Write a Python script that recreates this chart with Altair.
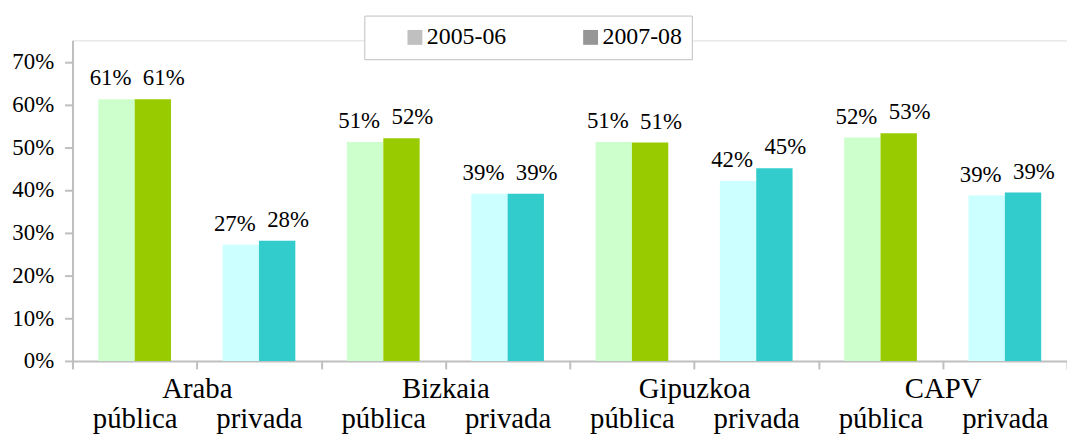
import altair as alt
import pandas as pd

groups = ["Araba", "Bizkaia", "Gipuzkoa", "CAPV"]
sectors = ["pública", "privada"]
years = ["2005-06", "2007-08"]
publica_2005 = [61.2, 51.2, 51.2, 52.3]
publica_2007 = [61.2, 52.1, 51.1, 53.3]
privada_2005 = [27.2, 39.1, 42.1, 38.7]
privada_2007 = [28.1, 39.1, 45.1, 39.4]
y_ticks = [0.0, 0.1, 0.2, 0.3, 0.4, 0.5, 0.6, 0.7]

bar_colors = ["#ccffcc", "#99cc00", "#ccffff", "#33cccc"]
legend_colors = ["#c0c0c0", "#969696"]
GREY = "#bfbfbf"
FONT = "Liberation Serif"

series = {
    ("pública", "2005-06"): publica_2005,
    ("pública", "2007-08"): publica_2007,
    ("privada", "2005-06"): privada_2005,
    ("privada", "2007-08"): privada_2007,
}
rows = []
for gi, g in enumerate(groups):
    for s in sectors:
        for yr in years:
            v = series[(s, yr)][gi]
            rows.append({
                "group": g, "sector": s, "slot": f"{g}|{s}", "year": yr,
                "key": f"{s} {yr}", "value": v / 100, "label": f"{round(v)}%",
            })
df = pd.DataFrame(rows)
slot_order = [f"{g}|{s}" for g in groups for s in sectors]
key_order = [f"{s} {yr}" for s in sectors for yr in years]

W, H = 1002, 323

x_slot = alt.X(
    "slot:N", sort=slot_order,
    scale=alt.Scale(domain=slot_order, paddingInner=0, paddingOuter=0),
    axis=alt.Axis(
        title=None, labelExpr="split(datum.label, '|')[1]", tickBand="extent",
        labelAngle=0, tickSize=8, tickColor=GREY, tickWidth=2,
        domainColor=GREY, domainWidth=2, labelFont=FONT, labelFontSize=29,
        labelPadding=59, labelBaseline="alphabetic", labelColor="black",
    ),
)
x_off = alt.XOffset("year:N", sort=years,
                    scale=alt.Scale(domain=years, paddingInner=0, paddingOuter=0.71))
y_enc = alt.Y(
    "value:Q",
    scale=alt.Scale(domain=[0, 0.75], nice=False, zero=True),
    axis=alt.Axis(
        title=None, values=y_ticks, format=".0%", grid=False, tickSize=8,
        tickColor=GREY, tickWidth=2, domainColor=GREY, domainWidth=2,
        labelFont=FONT, labelFontSize=23, labelPadding=11, labelColor="black",
    ),
)

bars = alt.Chart(df).mark_bar().encode(
    x=x_slot, xOffset=x_off, y=y_enc,
    color=alt.Color("key:N", scale=alt.Scale(domain=key_order, range=bar_colors), legend=None),
)


def label_layer(year, shift):
    return alt.Chart(df).transform_filter(alt.datum.year == year).mark_text(
        font=FONT, fontSize=23, dy=-14, dx=shift, baseline="alphabetic", color="black"
    ).encode(
        x=alt.X("slot:N", sort=slot_order), xOffset=x_off, y="value:Q", text="label:N"
    )


labels_a = label_layer(years[0], -6)
labels_b = label_layer(years[1], 11)

grp = alt.Chart(pd.DataFrame({"group": groups})).mark_text(opacity=0, text="").encode(
    x=alt.X(
        "group:N", sort=groups,
        scale=alt.Scale(domain=groups, paddingInner=0, paddingOuter=0),
        axis=alt.Axis(
            title=None, orient="bottom", domain=False, ticks=False, tickSize=0,
            labelAngle=0, labelFont=FONT, labelFontSize=29, labelPadding=37,
            labelBaseline="alphabetic", labelColor="black",
        ),
    )
)

leg = alt.Chart(pd.DataFrame({"year": years})).mark_square(opacity=0).encode(
    color=alt.Color(
        "year:N", scale=alt.Scale(domain=years, range=legend_colors),
        legend=alt.Legend(
            title=None, orient="none", legendX=294, legendY=-25,
            direction="horizontal", symbolType="square", symbolSize=225,
            symbolOpacity=1, symbolStrokeWidth=0, labelFont=FONT, labelFontSize=24,
            labelColor="black", labelOffset=0, symbolOffset=29, padding=10,
            strokeColor=GREY, fillColor="white", columnPadding=44,
            labelExpr="datum.value == '2007-08' ? datum.label + '\u00a0\u00a0\u00a0\u00a0\u00a0' : datum.label",
        ),
    )
)

inner = alt.layer(bars, labels_a, labels_b)
chart = alt.layer(inner, grp, leg).resolve_scale(
    x="independent", color="independent"
).properties(
    width=W, height=H,
    autosize=alt.AutoSizeParams(type="none"),
    padding={"left": 65, "top": 31, "right": 0, "bottom": 74},
).configure_view(stroke=None).configure(background="white")

chart.save("out.html", embed_options={"renderer": "svg", "actions": False})
